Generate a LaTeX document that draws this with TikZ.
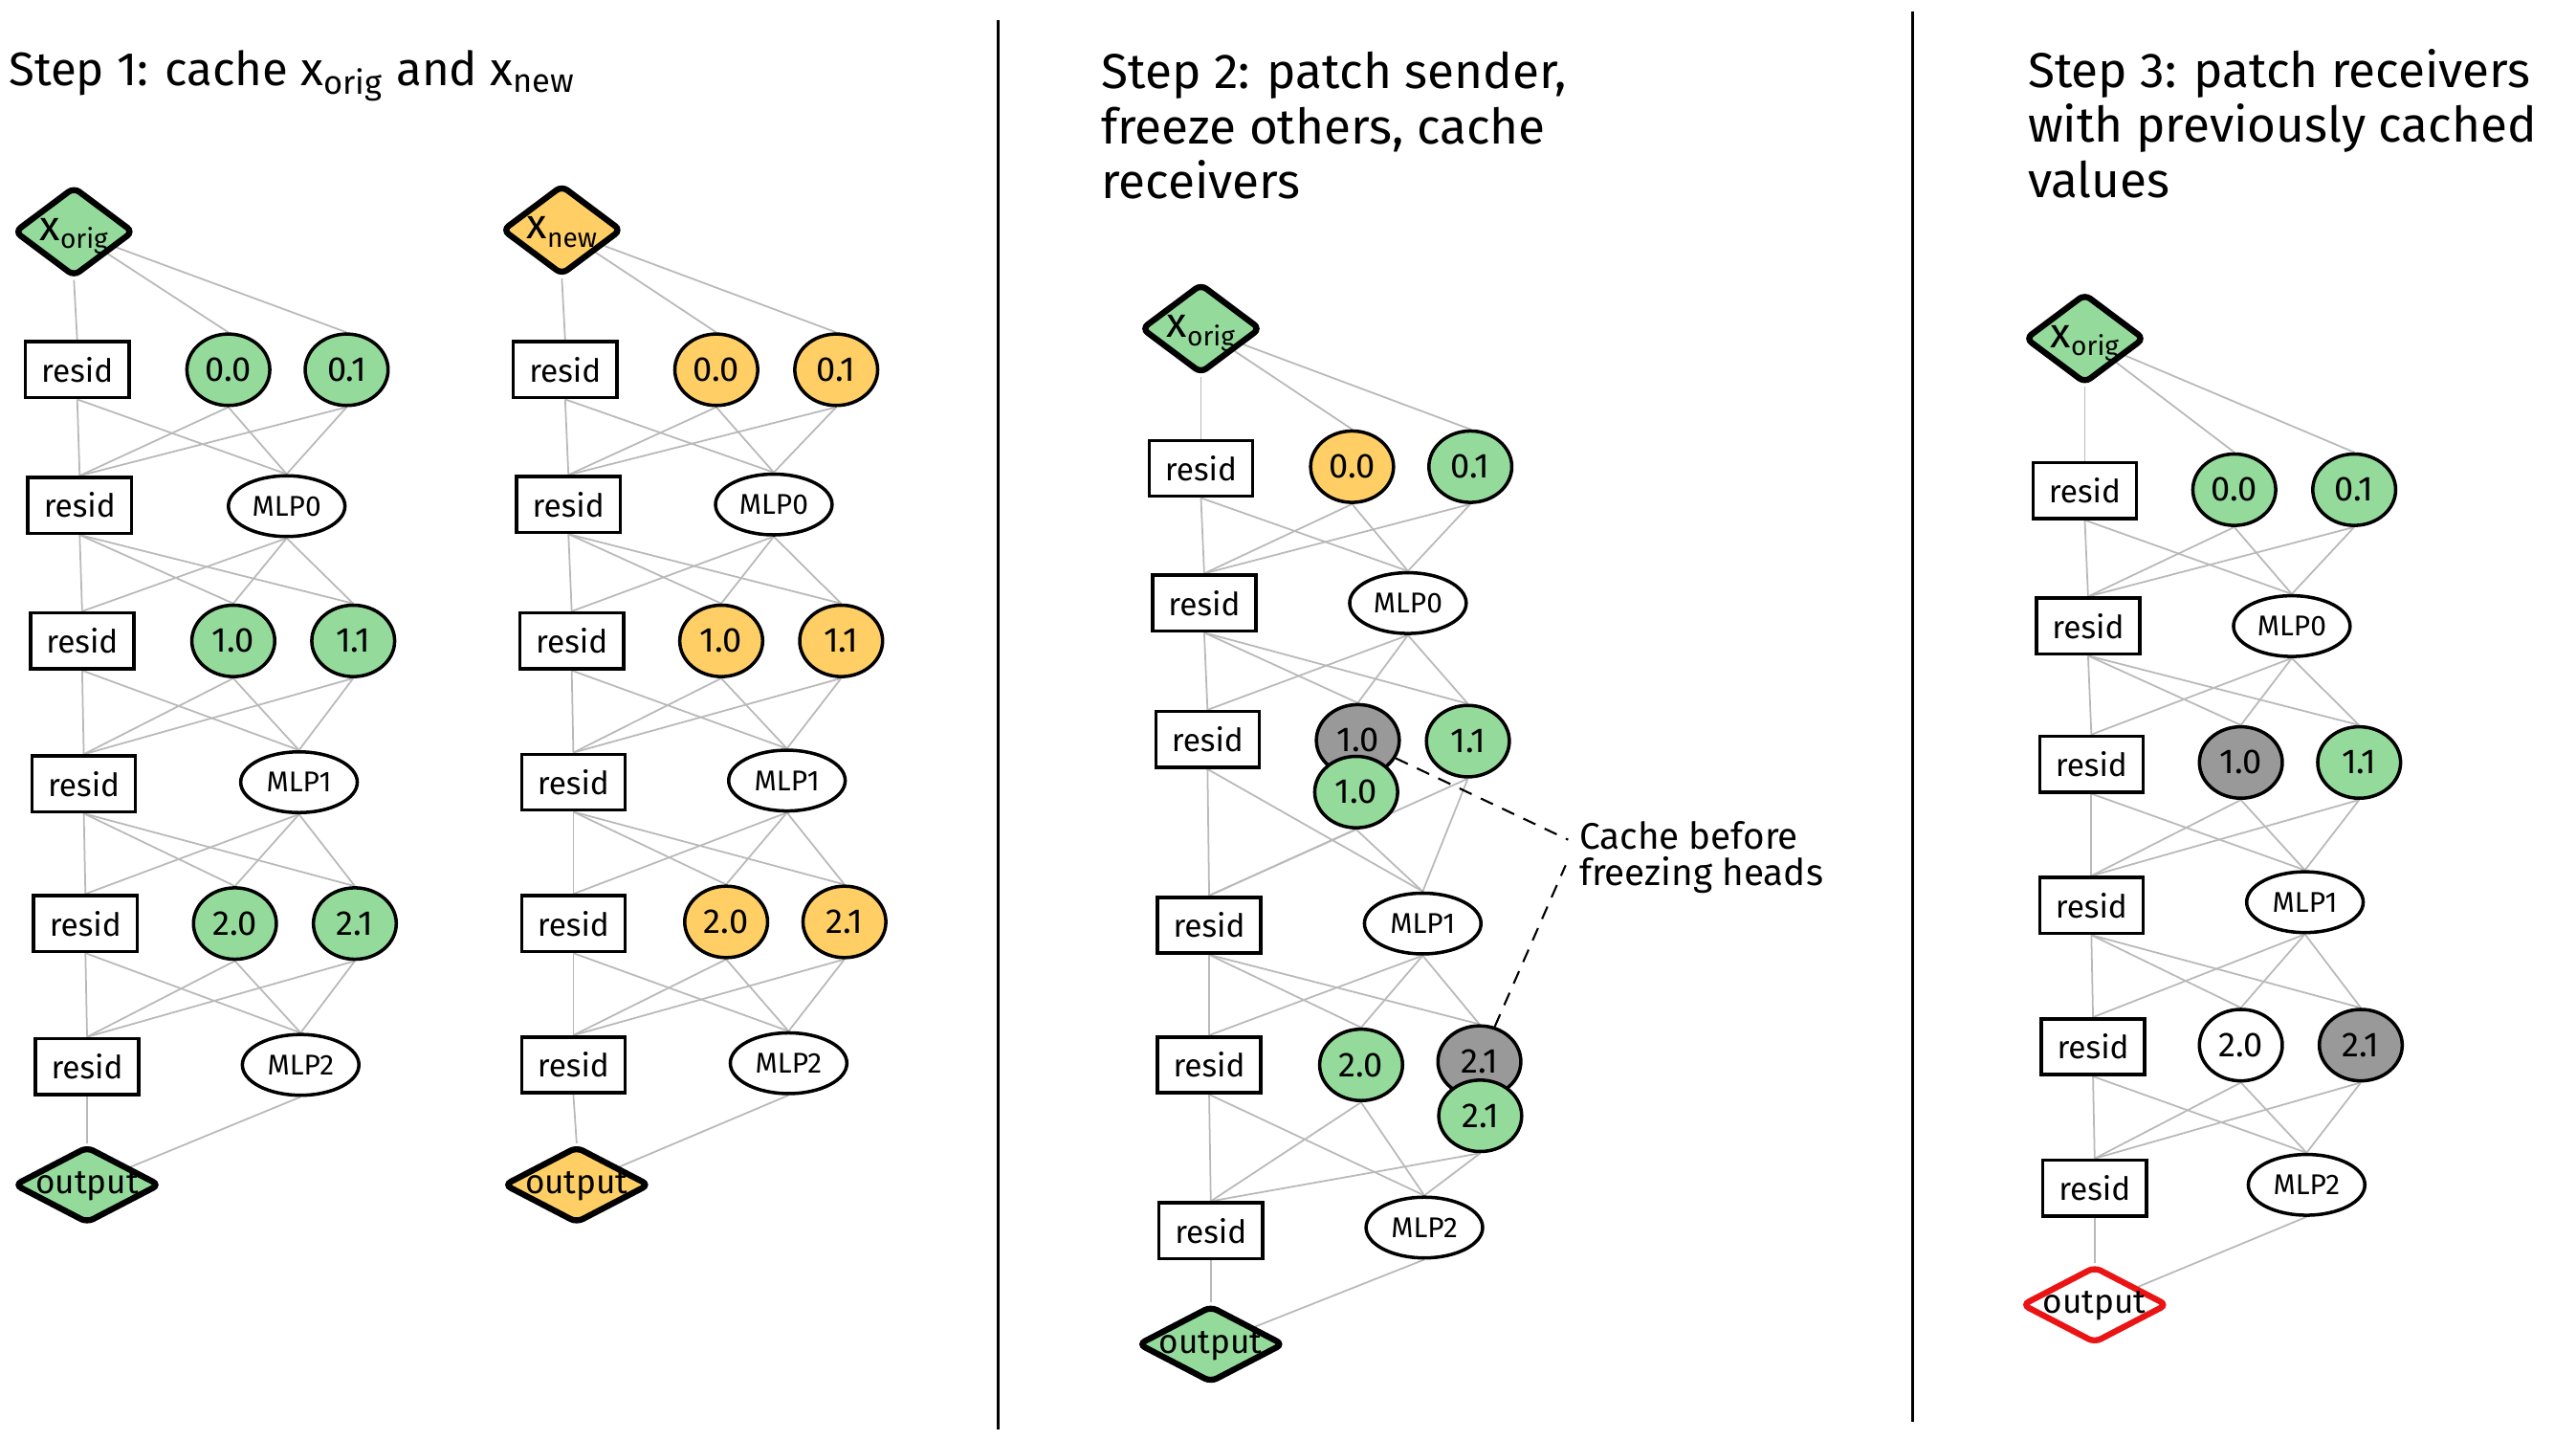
\documentclass[tikz,border=0pt]{standalone}
\usepackage{fontspec}
\setmainfont{Fira Sans}
\usetikzlibrary{shapes.geometric,backgrounds}
\definecolor{hgreen}{RGB}{148,219,155}
\definecolor{horange}{RGB}{255,207,102}
\definecolor{hgray}{RGB}{153,153,153}
\definecolor{hred}{RGB}{235,20,20}
\definecolor{edgegray}{RGB}{185,185,185}
\newcommand\zb[1]{\makebox[0pt]{\raisebox{-0.5ex}[0pt][0pt]{#1}}}
\newcommand\xlab[1]{\zb{{\fontsize{12.5}{12.5}\selectfont x}\raisebox{-0.45ex}{\fontsize{8}{8}\selectfont #1}}}
\tikzset{
  edge/.style={draw=edgegray, line width=0.5pt},
  resid/.style={draw, line width=1pt, fill=white, rectangle, minimum width=1.082cm, minimum height=0.584cm, inner sep=0pt, font=\fontsize{9.5}{10}\selectfont},
  head/.style={draw, line width=1pt, ellipse, minimum width=0.867cm, minimum height=0.747cm, inner sep=0pt, font=\fontsize{10.3}{11}\selectfont},
  mlp/.style={draw, line width=1pt, fill=white, ellipse, minimum width=1.219cm, minimum height=0.635cm, inner sep=0pt, font=\fontsize{8.5}{9}\selectfont},
  inp/.style={draw, line width=1.8pt, diamond, rounded corners=2pt, minimum width=1.254cm, minimum height=0.945cm, inner sep=0pt},
  outp/.style={draw, line width=1.8pt, diamond, rounded corners=2pt, minimum width=1.529cm, minimum height=0.807cm, inner sep=0pt, font=\fontsize{10}{11}\selectfont},
  title/.style={inner sep=0pt, anchor=base west, font=\fontsize{14}{16.4}\selectfont},
  wtitle/.style={title, font=\fontsize{14.6}{16.4}\selectfont},
  note/.style={inner sep=0pt, anchor=base west, font=\fontsize{11}{13}\selectfont},
  dashline/.style={draw=black, line width=0.6pt, dash pattern=on 4pt off 3pt},
  divider/.style={draw=black, line width=0.8pt},
}
\newcommand\graphedges[1]{%
  \draw[edge] (#1-in.south) -- (#1-r0.north);
  \draw[edge] (#1-in) -- (#1-h00.north);
  \draw[edge] (#1-in) -- (#1-h01.north);
  \foreach \s in {r0,h00o,h01o}{\foreach \t in {r1,m0}{\draw[edge] (#1-\s.south) -- (#1-\t.north);}}
  \foreach \s in {r1,m0}{\foreach \t in {r2,h10,h11}{\draw[edge] (#1-\s.south) -- (#1-\t.north);}}
  \foreach \s in {r2,h10o,h11o}{\foreach \t in {r3,m1}{\draw[edge] (#1-\s.south) -- (#1-\t.north);}}
  \foreach \s in {r3,m1}{\foreach \t in {r4,h20,h21}{\draw[edge] (#1-\s.south) -- (#1-\t.north);}}
  \foreach \s in {r4,h20o,h21o}{\foreach \t in {r5,m2}{\draw[edge] (#1-\s.south) -- (#1-\t.north);}}
  \draw[edge] (#1-r5.south) -- (#1-out.north);
  \draw[edge] (#1-m2.south) -- (#1-out);
}
\begin{document}
\begin{tikzpicture}[x=0.017175cm, y=-0.017175cm]
\useasboundingbox (0,0) rectangle (1568,876);

% ---------- titles ----------
\node[title] (t1) at (5,52) {Step 1: cache x\textsubscript{orig} and x\textsubscript{new}};
\node[wtitle] (t2a) at (670,54) {Step 2: patch sender,};
\node[wtitle] (t2b) at (670,87.5) {freeze others, cache};
\node[wtitle] (t2c) at (670,121) {receivers};
\node[wtitle] (t3a) at (1234,53) {Step 3: patch receivers};
\node[wtitle] (t3b) at (1234,86.5) {with previously cached};
\node[wtitle] (t3c) at (1234,120) {values};

% ---------- dividers ----------
\coordinate (v1a) at (607.5,12); \coordinate (v1b) at (607.5,870);
\coordinate (v2a) at (1164,7);   \coordinate (v2b) at (1164,865);
\draw[divider] (v1a) -- (v1b);
\draw[divider] (v2a) -- (v2b);

% ---------- panel 1, graph a (x_orig) ----------
\node[inp, fill=hgreen] (a-in) at (45,141) {\xlab{orig}};
\node[resid] (a-r0) at (47,225) {resid};
\node[head, fill=hgreen, alias=a-h00o] (a-h00) at (139,225) {0.0};
\node[head, fill=hgreen, alias=a-h01o] (a-h01) at (211,225) {0.1};
\node[resid] (a-r1) at (48.5,307.5) {resid};
\node[mlp] (a-m0) at (174.5,308) {MLP0};
\node[resid] (a-r2) at (50,390) {resid};
\node[head, fill=hgreen, alias=a-h10o] (a-h10) at (142,390) {1.0};
\node[head, fill=hgreen, alias=a-h11o] (a-h11) at (215,390) {1.1};
\node[resid] (a-r3) at (51,477) {resid};
\node[mlp] (a-m1) at (182,476) {MLP1};
\node[resid] (a-r4) at (52,562) {resid};
\node[head, fill=hgreen, alias=a-h20o] (a-h20) at (143,562) {2.0};
\node[head, fill=hgreen, alias=a-h21o] (a-h21) at (216,562) {2.1};
\node[resid] (a-r5) at (53,649) {resid};
\node[mlp] (a-m2) at (183,648) {MLP2};
\node[outp, fill=hgreen] (a-out) at (53,721) {\zb{output}};

% ---------- panel 1, graph b (x_new) ----------
\node[inp, fill=horange] (b-in) at (342,140) {\xlab{new}};
\node[resid] (b-r0) at (344,225) {resid};
\node[head, fill=horange, alias=b-h00o] (b-h00) at (436,225) {0.0};
\node[head, fill=horange, alias=b-h01o] (b-h01) at (509,225) {0.1};
\node[resid] (b-r1) at (346,307) {resid};
\node[mlp] (b-m0) at (471,307) {MLP0};
\node[resid] (b-r2) at (348,390) {resid};
\node[head, fill=horange, alias=b-h10o] (b-h10) at (439,390) {1.0};
\node[head, fill=horange, alias=b-h11o] (b-h11) at (512,390) {1.1};
\node[resid] (b-r3) at (349,476) {resid};
\node[mlp] (b-m1) at (479,475) {MLP1};
\node[resid] (b-r4) at (349,562) {resid};
\node[head, fill=horange, alias=b-h20o] (b-h20) at (442,561) {2.0};
\node[head, fill=horange, alias=b-h21o] (b-h21) at (514,561) {2.1};
\node[resid] (b-r5) at (349,648) {resid};
\node[mlp] (b-m2) at (480,647) {MLP2};
\node[outp, fill=horange] (b-out) at (351,721) {\zb{output}};

% ---------- panel 2 ----------
\node[inp, fill=hgreen] (c-in) at (731,200) {\xlab{orig}};
\node[resid] (c-r0) at (731,285) {resid};
\node[head, fill=horange, alias=c-h00o] (c-h00) at (823,284) {0.0};
\node[head, fill=hgreen, alias=c-h01o] (c-h01) at (895,284) {0.1};
\node[resid] (c-r1) at (733,367) {resid};
\node[mlp] (c-m0) at (857,367) {MLP0};
\node[resid] (c-r2) at (735,450) {resid};
\node[head, fill=hgray] (c-h10) at (826.5,450.5) {1.0};
\node[head, fill=hgreen] (c-h10o) at (825.5,482) {1.0};
\node[head, fill=hgreen, alias=c-h11o] (c-h11) at (893.5,451) {1.1};
\node[resid] (c-r3) at (736,563) {resid};
\node[mlp] (c-m1) at (866,562) {MLP1};
\node[resid] (c-r4) at (736,648) {resid};
\node[head, fill=hgreen, alias=c-h20o] (c-h20) at (828.5,648) {2.0};
\node[head, fill=hgray] (c-h21) at (900.5,646) {2.1};
\node[head, fill=hgreen] (c-h21o) at (901,679) {2.1};
\node[resid] (c-r5) at (737,749) {resid};
\node[mlp] (c-m2) at (867,747) {MLP2};
\node[outp, fill=hgreen] (c-out) at (737,818) {\zb{output}};

\node[note] (n1) at (961,516.5) {Cache before};
\node[note] (n2) at (961,539) {freezing heads};
\coordinate (d1) at (954.5,511);
\coordinate (d2) at (953,526.5);
\draw[dashline] (c-h10) -- (d1);
\draw[dashline] (c-h21) -- (d2);

% ---------- panel 3 ----------
\node[inp, fill=hgreen] (d-in) at (1269,206) {\xlab{orig}};
\node[resid] (d-r0) at (1269,298.5) {resid};
\node[head, fill=hgreen, alias=d-h00o] (d-h00) at (1360,298) {0.0};
\node[head, fill=hgreen, alias=d-h01o] (d-h01) at (1433,298) {0.1};
\node[resid] (d-r1) at (1271,381) {resid};
\node[mlp] (d-m0) at (1395,381) {MLP0};
\node[resid] (d-r2) at (1273,465) {resid};
\node[head, fill=hgray, alias=d-h10o] (d-h10) at (1364,464) {1.0};
\node[head, fill=hgreen, alias=d-h11o] (d-h11) at (1436,464) {1.1};
\node[resid] (d-r3) at (1273,551) {resid};
\node[mlp] (d-m1) at (1403,549) {MLP1};
\node[resid] (d-r4) at (1274,637) {resid};
\node[head, fill=white, alias=d-h20o] (d-h20) at (1364,636) {2.0};
\node[head, fill=hgray, alias=d-h21o] (d-h21) at (1437,636) {2.1};
\node[resid] (d-r5) at (1275,723) {resid};
\node[mlp] (d-m2) at (1404,721) {MLP2};
\node[outp, draw=hred, fill=white] (d-out) at (1275,794) {\zb{output}};

% ---------- edges (behind) ----------
\begin{scope}[on background layer]
  \fill[white] (0,0) rectangle (1568,876);
  \graphedges{a}
  \graphedges{b}
  \graphedges{c}
  \graphedges{d}
\end{scope}
\end{tikzpicture}
\end{document}
